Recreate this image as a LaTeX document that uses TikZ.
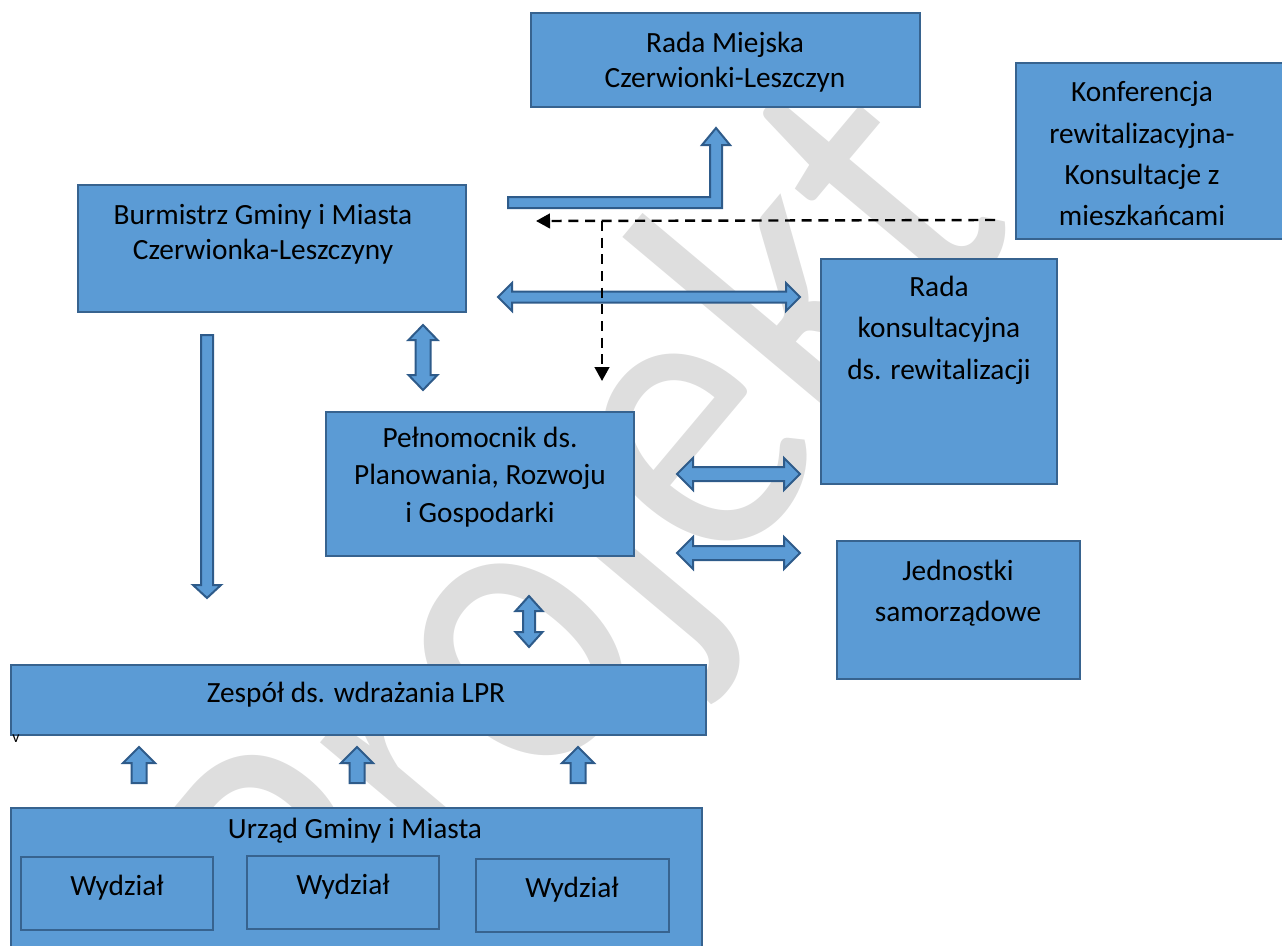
\documentclass[tikz,border=0pt]{standalone}
\usepackage{fontspec}
\setmainfont{Carlito}
\usetikzlibrary{arrows.meta,fit}
\definecolor{boxfill}{HTML}{5B9BD5}
\definecolor{boxline}{HTML}{37638F}
\definecolor{arrline}{HTML}{2E5B8A}
\definecolor{wmark}{HTML}{DEDEDE}
\newcommand\HDarr[6]{% xa xb y s h L
 \draw[barrow] (#1,#3) -- ({#1+#6},{#3-#5}) -- ({#1+#6},{#3-#4}) -- ({#2-#6},{#3-#4}) -- ({#2-#6},{#3-#5}) -- (#2,#3) -- ({#2-#6},{#3+#5}) -- ({#2-#6},{#3+#4}) -- ({#1+#6},{#3+#4}) -- ({#1+#6},{#3+#5}) -- cycle;}
\newcommand\VDarr[6]{% x ya yb s h L
 \draw[barrow] (#1,#2) -- ({#1+#5},{#2+#6}) -- ({#1+#4},{#2+#6}) -- ({#1+#4},{#3-#6}) -- ({#1+#5},{#3-#6}) -- (#1,#3) -- ({#1-#5},{#3-#6}) -- ({#1-#4},{#3-#6}) -- ({#1-#4},{#2+#6}) -- ({#1-#5},{#2+#6}) -- cycle;}
\newcommand\Varr[7]{% x tail tip s h L dir(+1 up, -1 down)
 \draw[barrow] (#1,#3) -- ({#1+#5},{#3+#7*#6}) -- ({#1+#4},{#3+#7*#6}) -- ({#1+#4},#2) -- ({#1-#4},#2) -- ({#1-#4},{#3+#7*#6}) -- ({#1-#5},{#3+#7*#6}) -- cycle;}
\begin{document}
\begin{tikzpicture}[x=0.75pt,y=-0.75pt,
  box/.style={draw=boxline, fill=boxfill, line width=1.5pt, inner sep=0pt},
  lbl/.style={align=center, text=black, font=\fontsize{22}{26}\selectfont},
  lblw/.style={align=center, text=black, font=\fontsize{22}{31}\selectfont},
  barrow/.style={draw=arrline, fill=boxfill, line width=1.5pt, line join=miter},
  dashline/.style={draw=black, line width=1.8pt, dash pattern=on 7.5pt off 5pt, -{Triangle[length=10.5pt,width=11pt]}}]
\useasboundingbox (0,0) rectangle (1282,946);
\clip (0,0) rectangle (1282,946);
% watermark
\node[text=wmark, rotate=50, xscale=0.85, inner sep=0pt, font=\fontsize{322}{322}\selectfont] (wm) at (595,560) {Projekt};
% boxes
\node[box, fit={(531,13) (920,107)}] (rm) {};
\node[lbl] at (725,62) {Rada Miejska\\Czerwionki-Leszczyn};
\node[box, fit={(1016,63) (1300,239)}] (kf) {};
\node[lblw] at (1142,154) {Konferencja\\rewitalizacyjna-\\Konsultacje z\\mieszkańcami};
\node[box, fit={(78,185) (466,312)}] (bu) {};
\node[lbl] at (263,234) {Burmistrz Gminy i Miasta\\Czerwionka-Leszczyny};
\node[box, fit={(821,259) (1057,484)}] (rk) {};
\node[lblw] at (939,330) {Rada\\konsultacyjna\\ds. rewitalizacji};
\node[box, fit={(326,412) (634,556)}] (pe) {};
\node[lbl, font=\fontsize{22}{28}\selectfont] at (480,477) {Pełnomocnik ds.\\Planowania, Rozwoju\\i Gospodarki};
\node[box, fit={(837,541) (1080,679)}] (js) {};
\node[lblw] at (958,593) {Jednostki\\samorządowe};
\node[box, fit={(11,665) (706,735)}] (ze) {};
\node[lbl] at (356,695) {Zespół ds. wdrażania LPR};
\node[text=black, inner sep=0pt, font=\fontsize{12}{12}\selectfont] (vv) at (16,739) {v};
\node[box, fit={(11,808) (702,960)}] (ur) {};
\node[lbl] at (355,831) {Urząd Gminy i Miasta};
\node[box, fit={(21,857) (213,930)}] (w1) {};
\node[lbl] at (117,888) {Wydział};
\node[box, fit={(247,856) (439,929)}] (w2) {};
\node[lbl] at (343,887) {Wydział};
\node[box, fit={(476,859) (669,932)}] (w3) {};
\node[lbl] at (572,890) {Wydział};
% block arrows
\draw[barrow] (508,197) -- (710,197) -- (710,145) -- (702,145) -- (716,128) -- (730,145) -- (722,145) -- (722,208) -- (508,208) -- cycle;
\HDarr{498}{800}{297}{5.5}{14}{14}
\HDarr{677}{800}{474}{7}{16}{16}
\HDarr{677}{800}{553}{7}{16}{16}
\VDarr{423}{325}{390}{7.5}{14.5}{15}
\VDarr{529}{596}{647}{6}{13.5}{15}
\Varr{207}{335}{598}{6}{14}{13}{-1}
\Varr{139}{783}{747}{7.5}{16}{16}{1}
\Varr{357}{783}{747}{7.5}{16}{16}{1}
\Varr{578}{783}{747}{7.5}{16}{16}{1}
% dashed connectors
\coordinate (d0) at (995,220);
\coordinate (d1) at (536,221);
\coordinate (dj) at (602,221);
\coordinate (d2) at (602,381);
\draw[dashline] (d0) -- (d1);
\draw[dashline] (dj) -- (d2);
\end{tikzpicture}
\end{document}
